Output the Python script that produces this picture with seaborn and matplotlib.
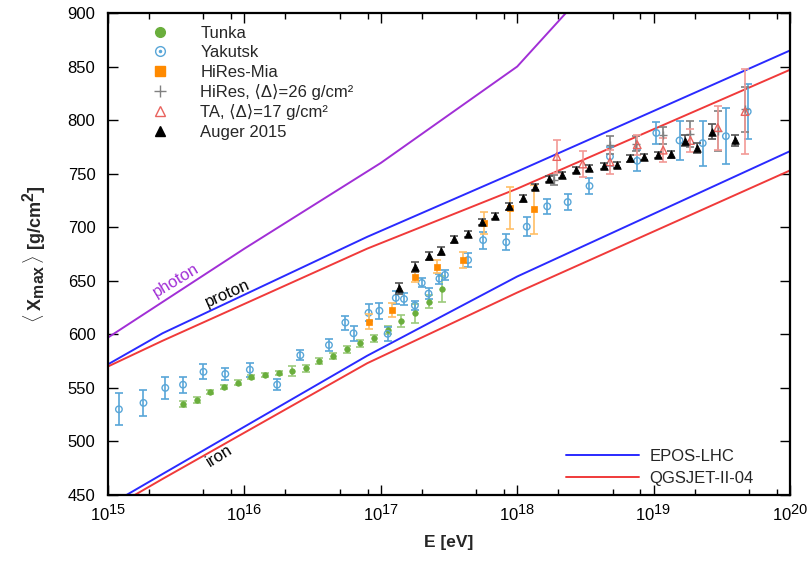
import numpy as np
import pandas as pd
import matplotlib
matplotlib.use("Agg")
import matplotlib.pyplot as plt
import matplotlib._mathtext as _mt
import seaborn as sns
from matplotlib.lines import Line2D
from matplotlib.ticker import FixedLocator, NullFormatter, LogFormatterSciNotation

# ---- air-shower model predictions: log10(E/eV) nodes and <Xmax> [g/cm^2]
model_lgE = [15.0, 15.4, 16.9, 18.0, 20.0]
epos_proton = [572, 601, 691, 752, 865]
qgs_proton = [570, 594, 680, 736, 847]
epos_iron = [440, 469.6, 580, 654, 771]
qgs_iron = [435.6, 465, 573, 639, 753]
photon_lgE = [15.0, 16.0, 17.0, 18.0, 19.0]
photon_xmax = [597, 680, 760, 850, 990]

# ---- measurements
tunka_lgE = [15.55, 15.65, 15.75, 15.85, 15.95, 16.05, 16.15, 16.25, 16.35, 16.45,
             16.55, 16.65, 16.75, 16.85, 16.95, 17.05, 17.15, 17.25, 17.35, 17.45]
tunka_x = [535, 538.7, 546, 551, 555, 560.5, 562, 563.6, 565.8, 568.2,
           575, 580, 586, 591.6, 596.3, 604, 612.7, 619.6, 630.5, 642]
tunka_err = [2.5, 3, 2, 2, 2, 2, 2, 2, 5, 3,
             3, 3, 3, 3, 3, 4, 5.5, 9, 6, 12]

yak_lgE = [15.08, 15.26, 15.42, 15.55, 15.70, 15.86, 16.04, 16.24, 16.41, 16.62,
           16.74, 16.80, 16.91, 16.99, 17.05, 17.11, 17.17, 17.25, 17.30, 17.35,
           17.43, 17.47, 17.64, 17.75, 17.92, 18.07, 18.22, 18.37, 18.53, 18.68,
           18.88, 19.02, 19.19, 19.36, 19.53, 19.69]
yak_x = [530, 536, 550, 553, 565, 563, 567, 553, 580.5, 590,
         611, 601, 620, 622, 600.5, 634, 633, 627, 648, 638,
         652, 655.5, 669.4, 688, 686, 700.5, 719.5, 723.5, 738.5, 766,
         762, 788, 781, 778.5, 785, 808]
yak_err = [15, 12, 10.5, 7.5, 7, 6, 6.5, 5, 4.7, 6,
           6.5, 7, 8, 7.5, 6.7, 6, 5.4, 4.4, 4.2, 5.1,
           4.7, 4.7, 7, 8, 7.3, 9, 6.7, 7.3, 7.5, 9.3,
           9.8, 10, 18, 21, 26, 25.5]

mia_lgE = [16.91, 17.08, 17.25, 17.41, 17.60, 17.76, 17.95, 18.12]
mia_x = [611.8, 622.7, 653.5, 663.2, 669.5, 704, 718, 716.7]
mia_err = [7, 6.2, 4.7, 6.2, 7.8, 10, 20, 23]

hires_lgE = [18.27, 18.68, 18.87, 19.07, 19.27, 19.47, 19.67]
hires_x = [744, 777, 778, 786, 787, 790, 810]
hires_err = [5, 8.4, 7, 8, 12, 18.5, 21]

ta_lgE = [18.29, 18.48, 18.68, 18.88, 19.07, 19.27, 19.47, 19.67]
ta_x = [766, 759, 761, 777, 772, 781, 793, 808]
ta_err = [15, 12, 11, 9.5, 11, 11, 20.5, 40]

auger_lgE = [17.13, 17.25, 17.35, 17.44, 17.54, 17.64, 17.74, 17.84, 17.94, 18.04,
             18.13, 18.23, 18.33, 18.43, 18.53, 18.64, 18.73, 18.83, 18.93, 19.03,
             19.13, 19.23, 19.32, 19.43, 19.60]
auger_x = [643, 663, 673, 678, 688.7, 693.7, 705, 710.5, 719.5, 727,
           737.8, 745, 748.8, 753.4, 755.3, 757.2, 758, 764.3, 765.8, 767.4,
           768, 780.8, 774, 789.3, 781]
auger_err = [5, 4.7, 4, 3.5, 3, 3, 3, 3, 3, 3,
             3, 3, 3, 3, 3, 3, 3, 3, 3, 3,
             3, 5.4, 5, 7, 5]

sns.set_theme(style="ticks")
plt.rcParams["font.family"] = ["Liberation Sans", "DejaVu Sans"]
plt.rcParams["mathtext.fontset"] = "custom"
plt.rcParams["mathtext.rm"] = "Liberation Sans"
plt.rcParams["mathtext.it"] = "Liberation Sans:italic"
plt.rcParams["mathtext.bf"] = "Liberation Sans:bold"
plt.rcParams["mathtext.sf"] = "Liberation Sans"
# larger exponents in the power-of-ten tick labels
_mt.SHRINK_FACTOR = 0.88

C_EPOS = "#2a2aff"
C_QGS = "#f03a3a"
C_PHOTON = "#a12fd6"
C_TUNKA = "#6aae3c"
C_TUNKA_E = "#9ccb7c"
C_YAK = "#58a6d8"
C_MIA = "#ff8a00"
C_MIA_E = "#ffbf66"
C_HIRES = "#808080"
C_TA = "#e9635e"
C_TA_E = "#f29a96"
C_AUGER = "#000000"
C_AUGER_E = "#555555"

fig = plt.figure(figsize=(8.11, 5.61), dpi=100)
ax = fig.add_axes([108 / 811, 1 - 495 / 561, (790 - 108) / 811, (495 - 13) / 561])

E = lambda lg: np.power(10.0, np.asarray(lg, dtype=float))

# model curves
curves = [
    (model_lgE, epos_proton, C_EPOS), (model_lgE, qgs_proton, C_QGS),
    (model_lgE, epos_iron, C_EPOS), (model_lgE, qgs_iron, C_QGS),
    (photon_lgE, photon_xmax, C_PHOTON),
]
for lg, xm, col in curves:
    df = pd.DataFrame({"E": E(lg), "Xmax": xm})
    sns.lineplot(data=df, x="E", y="Xmax", color=col, lw=1.4, ax=ax,
                 estimator=None, sort=False, legend=False, zorder=2)


def points(lg, xm, err, ecol, zo, **mk):
    ax.errorbar(E(lg), xm, yerr=err, fmt="none", ecolor=ecol, elinewidth=1.2,
                capsize=3, capthick=1.2, zorder=zo)
    sns.scatterplot(x=E(lg), y=xm, ax=ax, legend=False, zorder=zo + 0.5, **mk)


points(tunka_lgE, tunka_x, tunka_err, C_TUNKA_E, 3,
       marker="o", s=16, color=C_TUNKA, edgecolor=C_TUNKA, linewidth=0.5)
points(yak_lgE, yak_x, yak_err, C_YAK, 3,
       marker="o", s=22, color=C_YAK, facecolor="none", edgecolor=C_YAK, linewidth=1.0)
points(mia_lgE, mia_x, mia_err, C_MIA_E, 4,
       marker="s", s=18, color=C_MIA, edgecolor=C_MIA, linewidth=0.5)
points(hires_lgE, hires_x, hires_err, C_HIRES, 4,
       marker="+", s=30, color=C_HIRES, edgecolor=C_HIRES, linewidth=1.0)
points(ta_lgE, ta_x, ta_err, C_TA_E, 4,
       marker="^", s=30, color=C_TA, facecolor="none", edgecolor=C_TA, linewidth=1.0)
points(auger_lgE, auger_x, auger_err, C_AUGER_E, 6,
       marker="^", s=30, color=C_AUGER, edgecolor=C_AUGER, linewidth=0.5)

# curve labels
ax.text(E(15.50), 650.5, "photon", color=C_PHOTON, fontsize=12, rotation=31,
        ha="center", va="center", rotation_mode="anchor")
ax.text(E(15.88), 638.5, "proton", color="black", fontsize=12, rotation=24,
        ha="center", va="center", rotation_mode="anchor")
ax.text(E(15.82), 486.5, "iron", color="black", fontsize=12, rotation=32,
        ha="center", va="center", rotation_mode="anchor")

# axes
ax.set_xscale("log")
ax.set_xlim(1e15, 1e20)
ax.set_ylim(450, 900)
ax.xaxis.set_major_locator(FixedLocator(E([15, 16, 17, 18, 19, 20])))
ax.xaxis.set_major_formatter(LogFormatterSciNotation())
minor = [m * 10.0 ** d for d in range(15, 20) for m in (2, 5, 8)]
ax.xaxis.set_minor_locator(FixedLocator(minor))
ax.xaxis.set_minor_formatter(NullFormatter())
ax.set_yticks(np.arange(450, 901, 50))
ax.tick_params(which="both", direction="in", top=True, right=True, colors="black",
               labelsize=12)
ax.tick_params(which="major", length=7, width=1.0)
ax.tick_params(which="minor", length=4, width=1.0)
ax.tick_params(axis="y", pad=9)
ax.tick_params(axis="x", pad=6)
for sp in ax.spines.values():
    sp.set_visible(True)
    sp.set_linewidth(1.6)
    sp.set_color("black")

ax.set_xlabel("E [eV]", fontsize=12.5, fontweight="bold", labelpad=8)
ax.set_ylabel(r"$\langle\;\mathbf{X_{max}}\,\rangle$ [g/cm$^\mathbf{2}$]",
              fontsize=13, fontweight="bold", labelpad=14)

# legends
def mk(marker, col, face=None, ms=7, mew=1.0):
    return Line2D([], [], ls="none", marker=marker, color=col, ms=ms,
                  markerfacecolor=col if face is None else face,
                  markeredgecolor=col, markeredgewidth=mew)

data_handles = [
    mk("o", C_TUNKA, ms=7),
    (mk("o", C_YAK, face="none", ms=7), mk("o", C_YAK, ms=1.5)),
    mk("s", C_MIA, ms=7),
    mk("+", C_HIRES, ms=8),
    mk("^", C_TA, face="none", ms=7),
    mk("^", C_AUGER, ms=7),
]
data_labels = ["Tunka", "Yakutsk", "HiRes-Mia",
               "HiRes, \u27e8\u0394\u27e9=26 g/cm\u00b2",
               "TA, \u27e8\u0394\u27e9=17 g/cm\u00b2",
               "Auger 2015"]
leg1 = ax.legend(data_handles, data_labels, loc="upper left",
                 bbox_to_anchor=(35.5 / 682, 1 - 13 / 482), frameon=False,
                 fontsize=12, handlelength=2.0, handletextpad=1.4,
                 labelspacing=0.26, borderpad=0, borderaxespad=0)
ax.add_artist(leg1)

model_handles = [Line2D([], [], color=C_EPOS, lw=1.4), Line2D([], [], color=C_QGS, lw=1.4)]
ax.legend(model_handles, ["EPOS-LHC", "QGSJET-II-04"], loc="lower left",
          bbox_to_anchor=(458 / 682, 9 / 482), frameon=False, fontsize=12,
          handlelength=4.4, handletextpad=0.6, labelspacing=0.42,
          borderpad=0, borderaxespad=0)

fig.savefig("out.png", dpi=100)
